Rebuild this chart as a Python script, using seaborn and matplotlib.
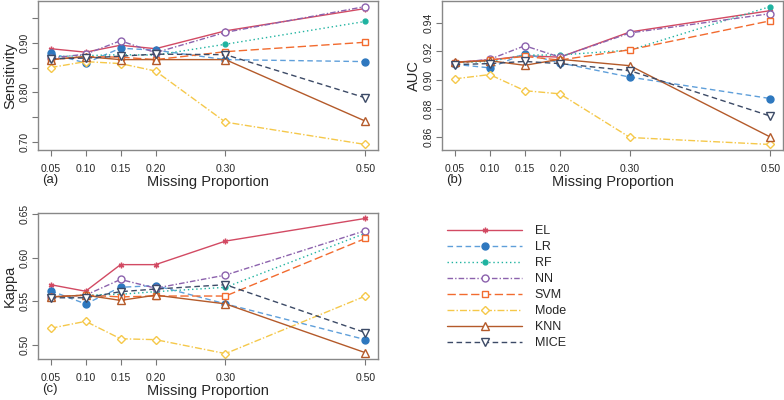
import matplotlib
matplotlib.use("Agg")
import matplotlib.pyplot as plt
import seaborn as sns

props = [0.05, 0.10, 0.15, 0.20, 0.30, 0.50]
methods = ["EL", "LR", "RF", "NN", "SVM", "Mode", "KNN", "MICE"]

# Sensitivity
sens_el = [0.888, 0.881, 0.895, 0.888, 0.924, 0.969]
sens_lr = [0.879, 0.859, 0.889, 0.885, 0.866, 0.862]
sens_rf = [0.872, 0.874, 0.876, 0.875, 0.897, 0.943]
sens_nn = [0.869, 0.877, 0.904, 0.880, 0.921, 0.973]
sens_svm = [0.866, 0.872, 0.871, 0.866, 0.882, 0.901]
sens_mode = [0.850, 0.862, 0.858, 0.843, 0.740, 0.695]
sens_knn = [0.866, 0.872, 0.866, 0.866, 0.866, 0.742]
sens_mice = [0.868, 0.869, 0.873, 0.877, 0.876, 0.789]

# AUC
auc_el = [0.9125, 0.9140, 0.9170, 0.9160, 0.9337, 0.9486]
auc_lr = [0.9110, 0.9085, 0.9185, 0.9120, 0.9020, 0.8870]
auc_rf = [0.9120, 0.9130, 0.9175, 0.9175, 0.9210, 0.9515]
auc_nn = [0.9120, 0.9145, 0.9240, 0.9160, 0.9330, 0.9465]
auc_svm = [0.9120, 0.9140, 0.9165, 0.9140, 0.9212, 0.9415]
auc_mode = [0.9008, 0.9038, 0.8925, 0.8903, 0.8597, 0.8548]
auc_knn = [0.9125, 0.9135, 0.9103, 0.9145, 0.9100, 0.8600]
auc_mice = [0.9108, 0.9115, 0.9130, 0.9115, 0.9065, 0.8747]

# Kappa
kap_el = [0.569, 0.5615, 0.592, 0.592, 0.619, 0.645]
kap_lr = [0.562, 0.547, 0.566, 0.568, 0.547, 0.506]
kap_rf = [0.555, 0.557, 0.558, 0.561, 0.566, 0.628]
kap_nn = [0.555, 0.557, 0.575, 0.565, 0.580, 0.631]
kap_svm = [0.555, 0.557, 0.555, 0.556, 0.556, 0.622]
kap_mode = [0.519, 0.527, 0.507, 0.506, 0.490, 0.556]
kap_knn = [0.555, 0.557, 0.551, 0.557, 0.547, 0.491]
kap_mice = [0.554, 0.554, 0.561, 0.564, 0.569, 0.514]

sens = [sens_el, sens_lr, sens_rf, sens_nn, sens_svm, sens_mode, sens_knn, sens_mice]
auc = [auc_el, auc_lr, auc_rf, auc_nn, auc_svm, auc_mode, auc_knn, auc_mice]
kap = [kap_el, kap_lr, kap_rf, kap_nn, kap_svm, kap_mode, kap_knn, kap_mice]

# line colour, marker colour, dashes, marker, filled marker?
styles = {
    "EL":   ("#d24a63", "#d24a63", "", (6, 2, 0), True),
    "LR":   ("#5f9fda", "#2e78bf", (4, 2.5), "o", True),
    "RF":   ("#1fb3a0", "#1fb3a0", (1, 2), "o", True),
    "NN":   ("#8c62ad", "#8c62ad", (4, 1.5, 1, 1.5), "o", False),
    "SVM":  ("#f26b2f", "#f26b2f", (6, 2.5), "s", False),
    "Mode": ("#f5c84a", "#f5c84a", (5, 1.5, 1, 1.5), "D", False),
    "KNN":  ("#b45a2a", "#b45a2a", "", "^", False),
    "MICE": ("#3c4a66", "#3c4a66", (4, 2.5), "v", False),
}
msize = {"EL": 4, "LR": 5, "RF": 3.5, "NN": 5, "SVM": 4.5, "Mode": 4, "KNN": 5.5, "MICE": 5.5}

sns.set_style("ticks")
plt.rcParams["font.family"] = ["Liberation Sans", "DejaVu Sans"]

fig = plt.figure(figsize=(7.84, 4), dpi=100)
ax_a = fig.add_axes([38/784, 1-150/400, 340/784, 149/400])
ax_b = fig.add_axes([442/784, 1-150/400, 341/784, 149/400])
ax_c = fig.add_axes([38/784, 1-359/400, 340/784, 146/400])


def draw(ax, values, ylab, yticks, ylabels, tag):
    for m, v in zip(methods, values):
        lc, mc, ds, mk, filled = styles[m]
        kw = dict(color=lc, marker=mk, markersize=msize[m], markeredgecolor=mc,
                  markerfacecolor=mc if filled else "white", markeredgewidth=1.0,
                  linewidth=1.0, label=m)
        if ds == "":
            kw["linestyle"] = "-"
        else:
            kw["dashes"] = ds
        sns.lineplot(x=props, y=v, ax=ax, **kw)
    ax.margins(x=0.04, y=0.04)
    ax.set_xticks(props)
    ax.set_xticklabels(["%.2f" % p for p in props])
    ax.set_yticks(yticks)
    ax.set_yticklabels(ylabels, rotation=90, va="center")
    ax.tick_params(axis="both", labelsize=7.5, length=4, width=0.8, color="#777777",
                   direction="out", pad=2)
    ax.tick_params(axis="x", pad=6)
    for s in ax.spines.values():
        s.set_visible(True)
        s.set_color("#888888")
        s.set_linewidth(1.0)
    ax.set_xlabel("Missing Proportion", fontsize=10.5, labelpad=1)
    ax.set_ylabel(ylab, fontsize=10.5, labelpad=2)
    if ax.get_legend() is not None:
        ax.get_legend().remove()
    pos = ax.get_position()
    fig.text(pos.x0 + 4/784, pos.y0 - 30/400, tag, fontsize=9.5, va="center", ha="left")


draw(ax_a, sens, "Sensitivity", [0.70, 0.75, 0.80, 0.85, 0.90, 0.95],
     ["0.70", "", "0.80", "", "0.90", ""], "(a)")
draw(ax_b, auc, "AUC", [0.86, 0.88, 0.90, 0.92, 0.94],
     ["0.86", "0.88", "0.90", "0.92", "0.94"], "(b)")
draw(ax_c, kap, "Kappa", [0.50, 0.55, 0.60, 0.65],
     ["0.50", "0.55", "0.60", "0.65"], "(c)")

handles, labels = ax_a.get_legend_handles_labels()
fig.legend(handles, labels, loc="center left", bbox_to_anchor=(441/784, 1-287/400),
           frameon=False, fontsize=9, handlelength=6.0, handletextpad=1.0,
           labelspacing=0.32, borderpad=0)

fig.savefig("out.png", dpi=100)
